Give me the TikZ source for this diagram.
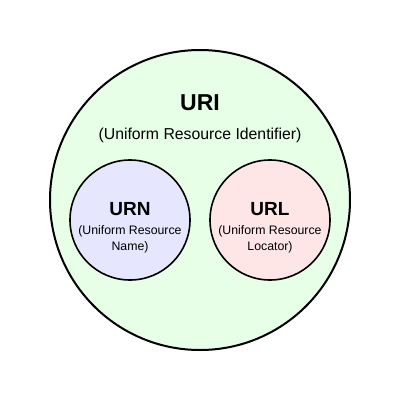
\documentclass[tikz,border=0pt]{standalone}
\usepackage{fontspec}
\setmainfont{Liberation Sans}
\begin{document}
\begin{tikzpicture}[x=1pt,y=-1pt,
  circ/.style={draw=black,circle,inner sep=0pt},
  title/.style={inner sep=0pt,anchor=base},
  sub/.style={font=\fontsize{15.8}{19}\selectfont,inner sep=0pt,anchor=base},
  small/.style={font=\fontsize{12.3}{15.5}\selectfont,inner sep=0pt,align=center,anchor=base}]
\useasboundingbox (0,0) rectangle (400,400);
\node[circ,line width=2pt,fill={rgb,255:red,230;green,255;blue,230},minimum size=300pt] (uri) at (200,200) {};
\node[circ,line width=1.6pt,fill={rgb,255:red,230;green,230;blue,255},minimum size=120pt] (urn) at (130,220) {};
\node[circ,line width=1.6pt,fill={rgb,255:red,255;green,230;blue,230},minimum size=120pt] (url) at (270,220) {};
\node[title,font=\bfseries\fontsize{23}{27}\selectfont] (urit) at (200,110) {URI};
\node[sub] (uris) at (200,139) {(Uniform Resource Identifier)};
\node[title,font=\bfseries\fontsize{19}{22}\selectfont] (urnt) at (130,215) {URN};
\node[small] (urns) at (130,250) {(Uniform Resource\\Name)};
\node[title,font=\bfseries\fontsize{19}{22}\selectfont] (urlt) at (270,215) {URL};
\node[small] (urls) at (270,250) {(Uniform Resource\\Locator)};
\end{tikzpicture}
\end{document}
